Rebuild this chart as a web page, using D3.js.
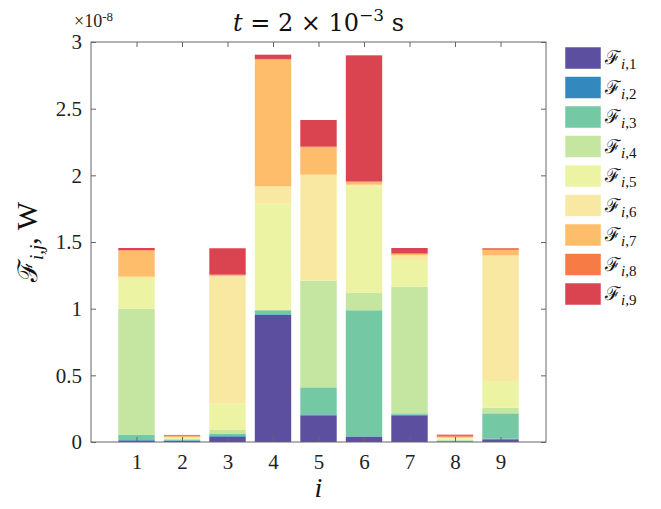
<!DOCTYPE html>
<html>
<head>
<meta charset="utf-8">
<script src="https://cdn.jsdelivr.net/npm/d3@7"></script>
<style>
  body { margin: 0; background: #fff; }
</style>
</head>
<body>
<div id="chart"></div>
<script>
// values in units of 1e-8 W
var categories = [1, 2, 3, 4, 5, 6, 7, 8, 9];
var f1 = [0.010, 0.008, 0.040, 0.953, 0.200, 0.040, 0.200, 0.003, 0.020];
var f2 = [0.005, 0.004, 0.010, 0.005, 0.007, 0.003, 0.005, 0.002, 0.005];
var f3 = [0.040, 0.006, 0.010, 0.030, 0.203, 0.945, 0.010, 0.006, 0.190];
var f4 = [0.945, 0.006, 0.030, 0.004, 0.800, 0.130, 0.950, 0.006, 0.042];
var f5 = [0.230, 0.006, 0.200, 0.795, 0.005, 0.797, 0.200, 0.008, 0.200];
var f6 = [0.010, 0.006, 0.955, 0.131, 0.790, 0.015, 0.035, 0.008, 0.943];
var f7 = [0.195, 0.008, 0.008, 0.950, 0.205, 0.020, 0.010, 0.006, 0.040];
var f8 = [0.005, 0.008, 0.002, 0.005, 0.005, 0.005, 0.005, 0.008, 0.012];
var f9 = [0.015, 0.001, 0.198, 0.032, 0.200, 0.945, 0.040, 0.008, 0.003];
var seriesNames = ["1", "2", "3", "4", "5", "6", "7", "8", "9"];
var colors = ["#5c4fa0", "#3389bd", "#74c9a4", "#c4e6a0", "#ecf4a4",
              "#f9e8a2", "#fdbd6b", "#f67b45", "#da4350"];
var yTicks = [0, 0.5, 1, 1.5, 2, 2.5, 3];

var serif = "Liberation Serif";
var scriptFont = "DejaVu Serif";

var svgWidth = 661;
var svgHeight = 509;
var margin = { top: 42, right: 115, bottom: 67, left: 91 };
var width = svgWidth - margin.left - margin.right;
var height = svgHeight - margin.top - margin.bottom;

var allSeries = [f1, f2, f3, f4, f5, f6, f7, f8, f9];
var table = categories.map(function (c, i) {
  var row = { cat: c };
  allSeries.forEach(function (s, k) { row["s" + k] = s[i]; });
  return row;
});
var keys = allSeries.map(function (s, k) { return "s" + k; });
var stacked = d3.stack().keys(keys)(table);

var svg = d3.select("#chart").append("svg")
  .attr("width", svgWidth)
  .attr("height", svgHeight)
  .attr("font-family", serif);

var chartGroup = svg.append("g")
  .attr("transform", `translate(${margin.left}, ${margin.top})`);

var x = d3.scaleLinear().domain([0, 10]).range([0, width]);
var y = d3.scaleLinear().domain([0, 3]).range([height, 0]);
var barW = (x(1) - x(0)) * 0.8;

chartGroup.selectAll("g.layer")
  .data(stacked)
  .enter()
  .append("g")
  .attr("class", "layer")
  .attr("fill", (d, k) => colors[k])
  .selectAll("rect")
  .data(d => d)
  .enter()
  .append("rect")
  .attr("x", d => x(d.data.cat) - barW / 2)
  .attr("width", barW)
  .attr("y", d => y(d[1]))
  .attr("height", d => Math.max(0, y(d[0]) - y(d[1])));

// axes box with inward ticks
var axisColor = "#666";
function styleAxis(g) {
  g.attr("font-family", serif).attr("font-size", 21);
  g.selectAll("line").attr("stroke", axisColor);
  g.select(".domain").remove();
  g.selectAll("text").attr("fill", "#222");
}
chartGroup.append("g")
  .attr("transform", `translate(0, ${height})`)
  .call(d3.axisBottom(x).tickValues(categories).tickSizeInner(-5).tickSizeOuter(0)
    .tickPadding(12).tickFormat(d3.format("d")))
  .call(styleAxis);

chartGroup.append("g")
  .call(d3.axisTop(x).tickValues(categories).tickSizeInner(-5).tickSizeOuter(0).tickFormat(""))
  .call(styleAxis);

chartGroup.append("g")
  .call(d3.axisLeft(y).tickValues(yTicks).tickSizeInner(-5).tickSizeOuter(0)
    .tickPadding(9).tickFormat(d => d))
  .call(styleAxis);

chartGroup.append("g")
  .attr("transform", `translate(${width}, 0)`)
  .call(d3.axisRight(y).tickValues(yTicks).tickSizeInner(-5).tickSizeOuter(0).tickFormat(""))
  .call(styleAxis);

chartGroup.append("rect")
  .attr("width", width)
  .attr("height", height)
  .attr("fill", "none")
  .attr("stroke", axisColor)
  .attr("stroke-width", 1);

// exponent label
var expo = chartGroup.append("text")
  .attr("x", -17)
  .attr("y", -15)
  .attr("fill", "#222")
  .attr("font-size", 18);
expo.append("tspan").text("\u00d710");
expo.append("tspan").attr("dy", -6).attr("font-size", 13).text("-8");

// title
var title = svg.append("text")
  .attr("x", margin.left + width / 2)
  .attr("y", 31)
  .attr("text-anchor", "middle")
  .attr("fill", "#111")
  .attr("font-family", "DejaVu Serif")
  .attr("font-size", 24);
title.append("tspan").attr("font-style", "italic").text("t");
title.append("tspan").text(" = 2 \u00d7 10");
title.append("tspan").attr("dy", -10).attr("font-size", 17).text("\u22123");
title.append("tspan").attr("dy", 10).text(" s");

// axis titles
chartGroup.append("text")
  .attr("x", width / 2)
  .attr("y", height + 55)
  .attr("text-anchor", "middle")
  .attr("fill", "#111")
  .attr("font-size", 28)
  .attr("font-style", "italic")
  .text("i");

var yl = chartGroup.append("text")
  .attr("transform", `translate(${-54}, ${height / 2}) rotate(-90)`)
  .attr("text-anchor", "middle")
  .attr("fill", "#111")
  .attr("font-size", 30);
yl.append("tspan").attr("font-family", scriptFont).attr("font-size", 27).text("\u2131");
yl.append("tspan").attr("dy", 6).attr("font-size", 19).attr("font-style", "italic").text("i,j");
yl.append("tspan").attr("dy", -6).text(", W");

// legend
var legend = svg.append("g").attr("transform", "translate(565, 47)");
var item = legend.selectAll("g")
  .data(seriesNames)
  .enter()
  .append("g")
  .attr("transform", (d, k) => `translate(0, ${k * 29.5})`);
item.append("rect")
  .attr("width", 36)
  .attr("height", 22)
  .attr("fill", (d, k) => colors[k])
  .attr("stroke", "#fff")
  .attr("stroke-width", 0.5);
var lt = item.append("text")
  .attr("x", 40)
  .attr("y", 17)
  .attr("fill", "#111")
  .attr("font-size", 21);
lt.append("tspan").attr("font-family", scriptFont).attr("font-size", 19).text("\u2131");
lt.append("tspan").attr("dy", 5).attr("font-size", 15).attr("font-style", "italic").text("i");
lt.append("tspan").attr("font-size", 15).text(d => "," + d);
</script>
</body>
</html>
